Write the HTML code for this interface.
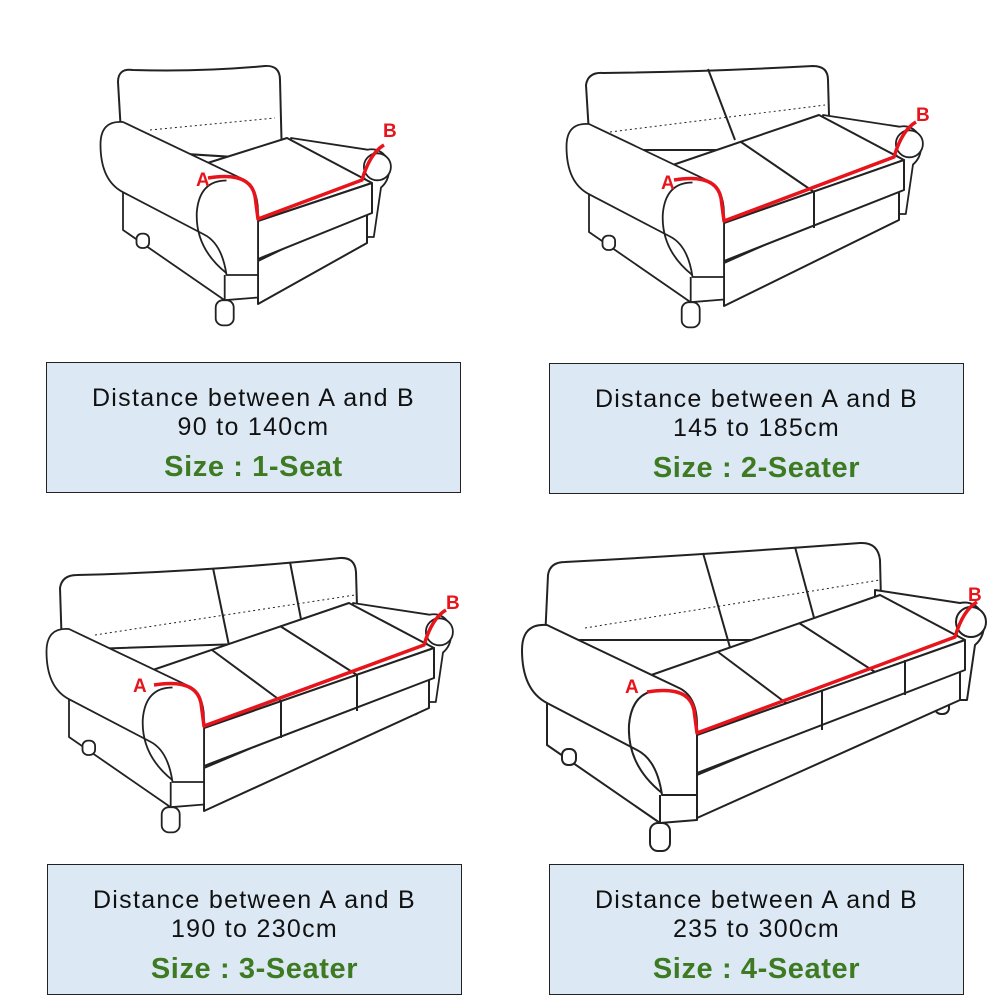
<!DOCTYPE html>
<html><head><meta charset="utf-8"><style>
html,body{margin:0;padding:0;background:#fff;width:1000px;height:1000px;overflow:hidden}
.box{position:absolute;width:413px;height:129px;background:#dce9f5;border:1px solid #222;text-align:center;font-family:"Liberation Sans",sans-serif;color:#111}
.l1{position:absolute;left:0;right:0;top:21px;font-size:25px;line-height:29px;letter-spacing:1.3px}
.l3{position:absolute;left:0;right:0;top:88px;font-size:29px;font-weight:bold;color:#3d7a22;line-height:32px;letter-spacing:0.6px}
svg{position:absolute;left:0;top:0}
</style></head><body>
<svg width="1000" height="1000" viewBox="0 0 1000 1000" fill="#fff" stroke="#222" stroke-width="2" stroke-linejoin="round">
<defs>
<g id="L">
<path d="M-150,-40 L-150,10 L-37,88 L0,85 L0,40 Z"/>
<path d="M-37,60 L-37,88" fill="none"/>
<path d="M-175,-85 Q-175,-112 -150,-110 L-20,-48 Q0,-40 0,-10 L0,60 L-35,60 Q-40,25 -60,15 L-150,-32 Q-175,-45 -175,-85 Z"/>
<path d="M-35,58 Q-70,30 -68,-10 Q-65,-45 -35,-45" fill="none"/>
<rect x="-47" y="88" width="20" height="28" rx="8"/>
<rect x="-135" y="14" width="14" height="16" rx="6"/>
</g>
<g id="R">
<path d="M-90,-50 L-5,-37 Q10,-40 18,-25 Q22,-5 10,5 L2,60 L-8,60 L-8,-5 L-90,-22 Z"/>
<circle cx="6" cy="-18" r="15"/>
<rect x="-30" y="58" width="14" height="16" rx="6"/>
</g>
</defs>

<!-- Sofa 1 -->
<path d="M122,150 L118,82 Q118,68 133,70 Q200,72 265,66 Q280,65 280,80 L282,160 Z"/>
<path d="M150,130 L275,118" fill="none" stroke-dasharray="2,3" stroke-width="1"/>
<use href="#R" transform="translate(372,183) scale(0.9)"/>
<path d="M258,261 L258,304 L367,243 L367,208 Z"/>
<path d="M258,221 L372,183 L287,138 L198,166 Z"/>
<path d="M258,221 L372,183 L372,213 L258,259 Z"/>
<use href="#L" transform="translate(258,221) scale(0.9)"/>
<path d="M208,178 Q250,171 255,196 L258,219 L362,180 Q370,153 384,145" fill="none" stroke="#e8141b" stroke-width="3.5"/>
<text x="196" y="186" fill="#e8141b" stroke="none" font-family="Liberation Sans" font-weight="bold" font-size="19">A</text>
<text x="383" y="137" fill="#e8141b" stroke="none" font-family="Liberation Sans" font-weight="bold" font-size="19">B</text>

<!-- Sofa 2 -->
<path d="M590,150 L586,85 Q588,72 603,73 Q700,72 813,66 Q828,66 828,80 L830,150 Z"/>
<path d="M708,69 L735,140" fill="none"/>
<path d="M610,132 L825,105" fill="none" stroke-dasharray="2,3" stroke-width="1"/>
<use href="#R" transform="translate(904,160) scale(0.9)"/>
<path d="M724,263 L724,306 L899,220 L899,185 Z"/>
<path d="M724,223 L904,160 L819,115 L664,168 Z"/>
<path d="M724,223 L904,160 L904,190 L724,261 Z"/>
<path d="M814,192 L741,142 M814,192 L814,228" fill="none"/>
<use href="#L" transform="translate(724,223) scale(0.9)"/>
<path d="M674,180 Q716,173 721,198 L724,221 L894,157 Q902,130 916,122" fill="none" stroke="#e8141b" stroke-width="3.5"/>
<text x="661" y="189" fill="#e8141b" stroke="none" font-family="Liberation Sans" font-weight="bold" font-size="19">A</text>
<text x="916" y="121" fill="#e8141b" stroke="none" font-family="Liberation Sans" font-weight="bold" font-size="19">B</text>

<!-- Sofa 3 -->
<path d="M62,650 L60,588 Q62,575 77,575 Q200,572 340,558 Q355,557 356,572 L358,640 Z"/>
<path d="M213,568 L232,660 M290,562 L305,640" fill="none"/>
<path d="M95,635 L355,595" fill="none" stroke-dasharray="2,3" stroke-width="1"/>
<use href="#R" transform="translate(434,648) scale(0.9)"/>
<path d="M204,768 L204,811 L429,708 L429,673 Z"/>
<path d="M204,728 L434,648 L349,603 L144,673 Z"/>
<path d="M204,728 L434,648 L434,678 L204,766 Z"/>
<path d="M281,701 L212,650 M357,675 L280,626 M281,701 L281,738 M357,675 L357,711" fill="none"/>
<use href="#L" transform="translate(204,728) scale(0.9)"/>
<path d="M154,685 Q196,678 201,703 L204,726 L424,645 Q432,618 446,610" fill="none" stroke="#e8141b" stroke-width="3.5"/>
<text x="133" y="692" fill="#e8141b" stroke="none" font-family="Liberation Sans" font-weight="bold" font-size="19">A</text>
<text x="446" y="609" fill="#e8141b" stroke="none" font-family="Liberation Sans" font-weight="bold" font-size="19">B</text>

<!-- Sofa 4 -->
<path d="M545,640 L548,575 Q550,562 565,562 Q700,555 860,543 Q878,542 880,560 L882,640 Z"/>
<path d="M703,553 L735,665 M795,547 L820,640" fill="none"/>
<path d="M585,628 L880,580" fill="none" stroke-dasharray="2,3" stroke-width="1"/>
<use href="#R" transform="translate(965,640)"/>
<path d="M697,775 L697,818 L960,700 L960,665 Z"/>
<path d="M697,735 L965,640 L880,595 L637,680 Z"/>
<path d="M697,735 L965,640 L965,670 L697,773 Z"/>
<path d="M786,703 L718,652 M875,672 L799,623 M822,690 L822,730 M905,660 L905,695" fill="none"/>
<use href="#L" transform="translate(697,735)"/>
<path d="M647,692 Q689,685 694,710 L697,733 L955,637 Q963,610 977,602" fill="none" stroke="#e8141b" stroke-width="3.5"/>
<text x="625" y="693" fill="#e8141b" stroke="none" font-family="Liberation Sans" font-weight="bold" font-size="19">A</text>
<text x="968" y="601" fill="#e8141b" stroke="none" font-family="Liberation Sans" font-weight="bold" font-size="19">B</text>
</svg>

<div class="box" style="left:46px;top:362px"><div class="l1">Distance between A and B<br>90 to 140cm</div><div class="l3">Size : 1-Seat</div></div>
<div class="box" style="left:549px;top:363px"><div class="l1">Distance between A and B<br>145 to 185cm</div><div class="l3">Size : 2-Seater</div></div>
<div class="box" style="left:47px;top:864px"><div class="l1">Distance between A and B<br>190 to 230cm</div><div class="l3">Size : 3-Seater</div></div>
<div class="box" style="left:549px;top:864px"><div class="l1">Distance between A and B<br>235 to 300cm</div><div class="l3">Size : 4-Seater</div></div>
</body></html>
